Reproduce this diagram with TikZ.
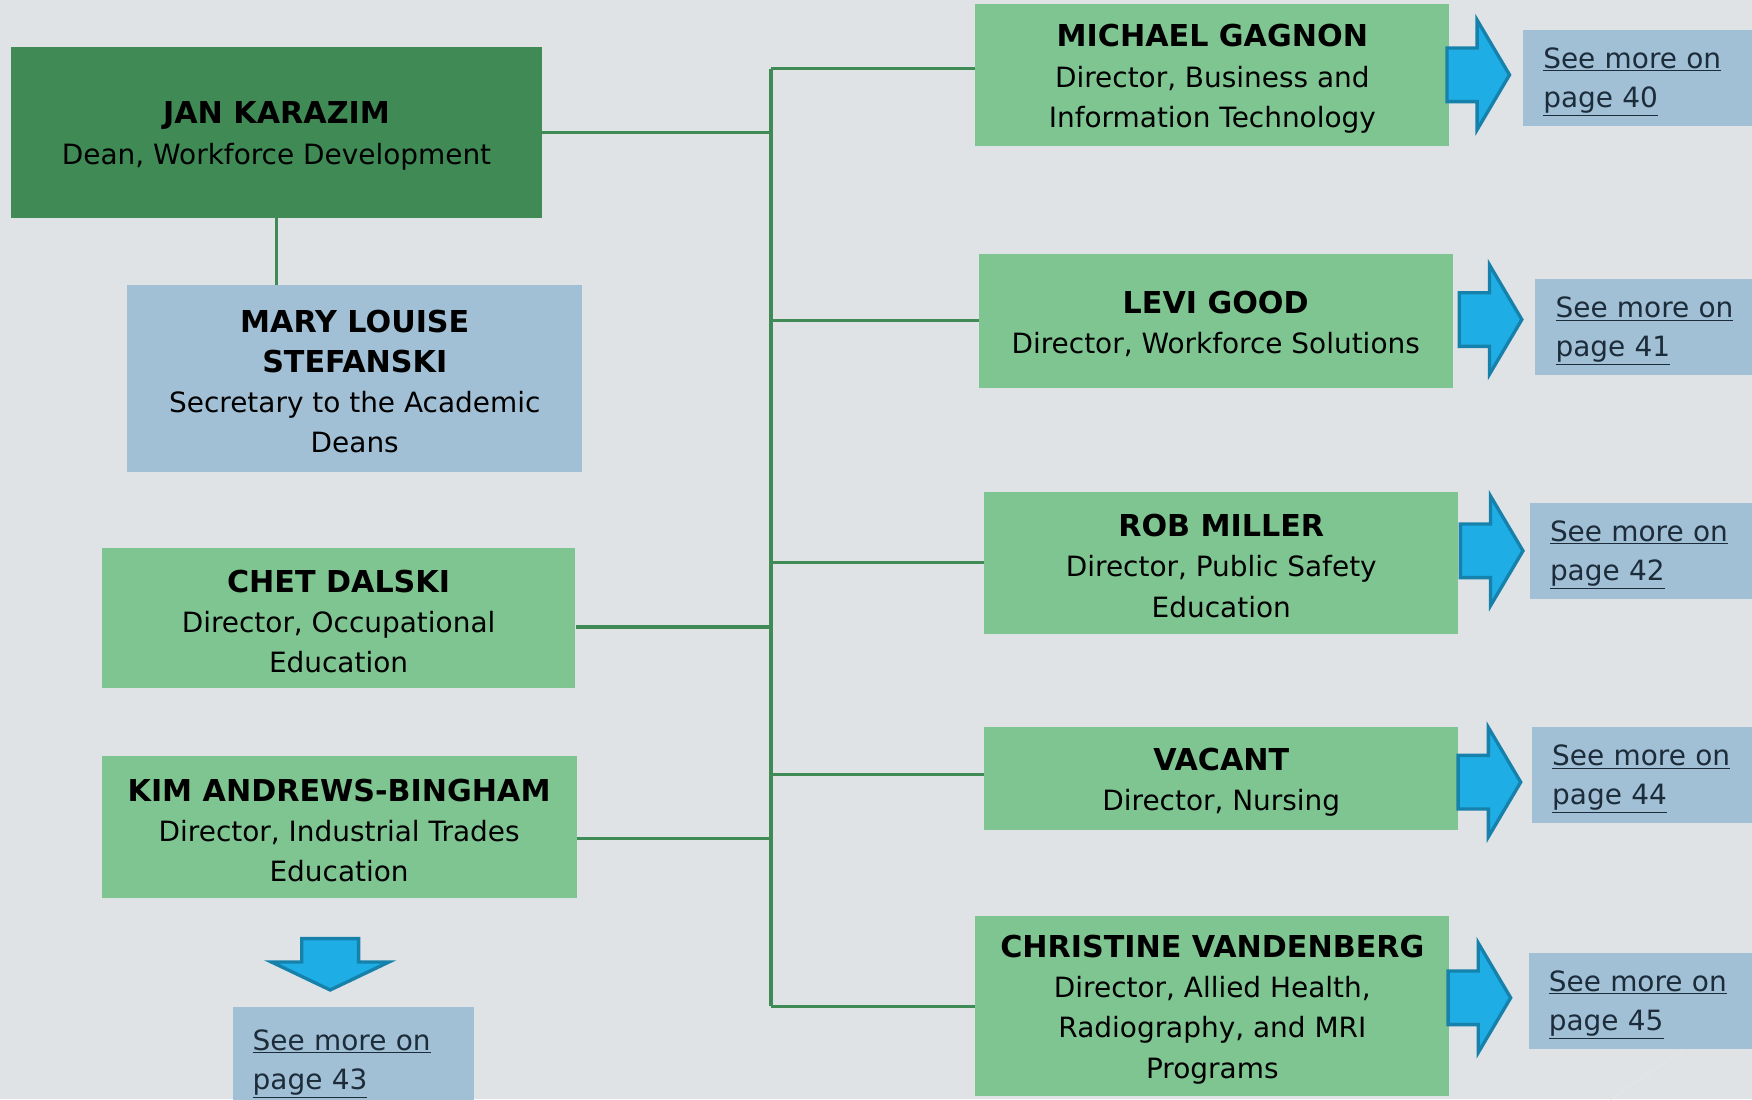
\documentclass[tikz,border=0pt]{standalone}
\usepackage{fontspec}
\setmainfont{DejaVu Sans}
\usetikzlibrary{calc}
\definecolor{slidebg}{HTML}{DFE3E6}
\definecolor{deangreen}{HTML}{3F8A55}
\definecolor{staffgreen}{HTML}{7FC592}
\definecolor{secblue}{HTML}{A1C0D5}
\definecolor{linkblue}{HTML}{1C2C3A}
\definecolor{arrowfill}{HTML}{1EADE4}
\definecolor{arrowline}{HTML}{1682AC}
\newcommand{\who}[1]{{\fontsize{27}{40}\selectfont\bfseries\rule{0pt}{26pt}#1}}
\newcommand{\seelink}[1]{\rule{0pt}{25pt}\underline{#1}}
\tikzset{
  orgbox/.style={rectangle, inner sep=0pt, align=center,
    font=\fontsize{25}{36}\selectfont},
  deanbox/.style={orgbox, fill=deangreen},
  staffbox/.style={orgbox, fill=staffgreen},
  secbox/.style={orgbox, fill=secblue},
  seebox/.style={rectangle, fill=secblue, inner xsep=18pt, inner ysep=0pt,
    align=left, text=linkblue, minimum height=86pt,
    font=\fontsize{25}{35}\selectfont},
  orgline/.style={draw=deangreen, line width=3pt},
  bigarrow/.style={fill=arrowfill, draw=arrowline, line width=3pt, line join=miter},
}
% right arrow: shaft start x, tip y
\newcommand{\rightarrowshape}[2]{%
  \draw[bigarrow] (#1,#2-24) -- (#1+27,#2-24) -- (#1+27,#2-49) -- (#1+56,#2)
    -- (#1+27,#2+49) -- (#1+27,#2+24) -- (#1,#2+24) -- cycle;}

\begin{document}
\begin{tikzpicture}[x=1pt,y=-1pt]
\fill[slidebg] (0,0) rectangle (1568,984);
\useasboundingbox (0,0) rectangle (1568,984);
%%%faint slide decoration
\draw[black!10, line width=1.2pt] (1441,984) -- (1568,898);

%%%left column
\node[deanbox, minimum width=475pt, minimum height=153pt] (jan) at (247.5,118.5)
  {\who{JAN KARAZIM}\\Dean, Workforce Development};
\node[secbox, minimum width=407pt, minimum height=167pt] (mary) at (317.5,338.5)
  {\who{MARY LOUISE}\\\who{STEFANSKI}\\Secretary to the Academic\\Deans};
\node[staffbox, minimum width=424pt, minimum height=126pt] (chet) at (303,553)
  {\who{CHET DALSKI}\\Director, Occupational\\Education};
\node[staffbox, minimum width=425pt, minimum height=127pt] (kim) at (303.5,740.5)
  {\who{KIM ANDREWS-BINGHAM}\\Director, Industrial Trades\\Education};

%%%right column
\node[staffbox, minimum width=424pt, minimum height=127pt] (michael) at (1085,67.5)
  {\who{MICHAEL GAGNON}\\Director, Business and\\Information Technology};
\node[staffbox, minimum width=424pt, minimum height=120pt] (levi) at (1088,287)
  {\who{LEVI GOOD}\\Director, Workforce Solutions};
\node[staffbox, minimum width=424pt, minimum height=127pt] (rob) at (1093,503.5)
  {\who{ROB MILLER}\\Director, Public Safety\\Education};
\node[staffbox, minimum width=424pt, minimum height=92pt] (vacant) at (1093,697)
  {\who{VACANT}\\Director, Nursing};
\node[staffbox, minimum width=424pt, minimum height=161pt] (christine) at (1085,900.5)
  {\who{CHRISTINE VANDENBERG}\\Director, Allied Health,\\Radiography, and MRI\\Programs};

%%%see more boxes
\node[seebox, anchor=west, text width=194pt] (see40) at (1363,70)
  {\seelink{See more on}\\\seelink{page 40}};
\node[seebox, anchor=west, text width=194pt] (see41) at (1374,293)
  {\seelink{See more on}\\\seelink{page 41}};
\node[seebox, anchor=west, text width=194pt] (see42) at (1369,493)
  {\seelink{See more on}\\\seelink{page 42}};
\node[seebox, anchor=west, text width=194pt] (see44) at (1371,694)
  {\seelink{See more on}\\\seelink{page 44}};
\node[seebox, anchor=west, text width=194pt] (see45) at (1368,896)
  {\seelink{See more on}\\\seelink{page 45}};
\node[seebox, anchor=north west, text width=180pt, minimum height=95pt] (see43) at (208,901)
  {\seelink{See more on}\\\seelink{page 43}};

%%%arrows
\rightarrowshape{1295}{67}
\rightarrowshape{1306}{286}
\rightarrowshape{1307}{493}
\rightarrowshape{1305}{700}
\rightarrowshape{1296}{893}
\draw[bigarrow] (270,840) -- (321,840) -- (321,861) -- (348,861) -- (295.5,886)
  -- (243,861) -- (270,861) -- cycle;

%%%connectors
\coordinate (trunk) at (690,0);
\draw[orgline] ([yshift=6pt]michael.west -| trunk) -- (christine.west -| trunk);
\draw[orgline] (jan.east) -- (jan.east -| trunk);
\draw[orgline] ([yshift=-8pt]chet.east) -- ([yshift=-8pt]chet.east -| trunk);
\draw[orgline] ([yshift=-10pt]kim.east) -- ([yshift=-10pt]kim.east -| trunk);
\draw[orgline] ([yshift=6pt]michael.west) -- ([yshift=6pt]michael.west -| trunk);
\draw[orgline] ([yshift=4pt]vacant.west) -- ([yshift=4pt]vacant.west -| trunk);
\foreach \n in {levi,rob,christine}
  \draw[orgline] (\n.west) -- (\n.west -| trunk);
\draw[orgline] (jan.south) -- (jan.south |- mary.north);
\end{tikzpicture}
\end{document}
